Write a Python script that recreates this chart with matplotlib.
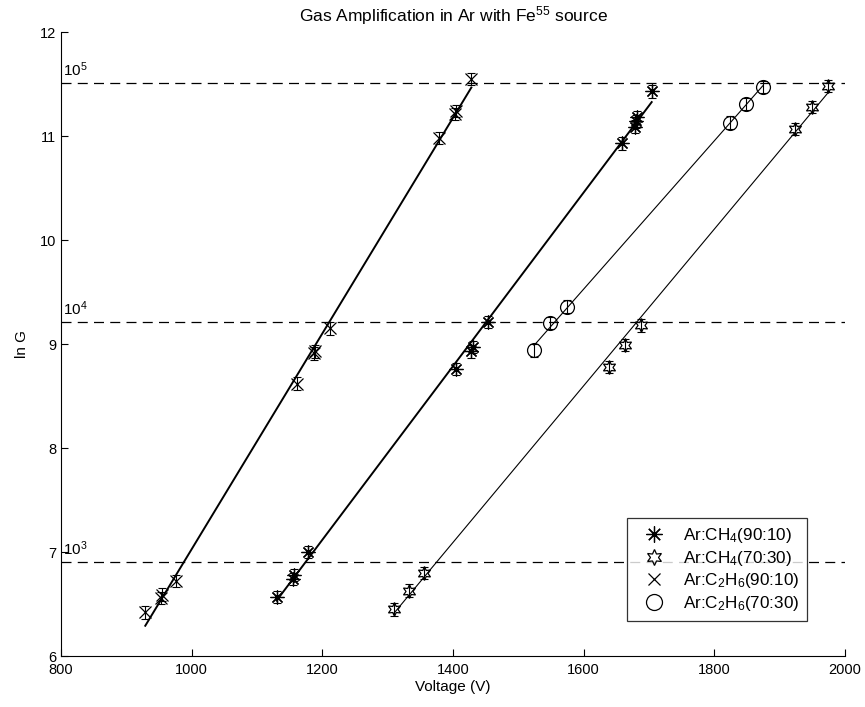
import numpy as np
import matplotlib.pyplot as plt

plt.rcParams['font.family'] = ['Liberation Sans', 'DejaVu Sans']
plt.rcParams['mathtext.default'] = 'regular'

# data: voltage (V) vs ln G
v_ch4_9010 = [1130, 1155, 1156, 1178, 1404, 1428, 1430, 1454, 1658, 1679, 1680, 1681, 1704]
g_ch4_9010 = [6.57, 6.74, 6.78, 7.00, 8.76, 8.93, 8.97, 9.21, 10.93, 11.09, 11.14, 11.18, 11.43]

v_ch4_7030 = [1309, 1333, 1355, 1638, 1663, 1688, 1924, 1949, 1974]
g_ch4_7030 = [6.45, 6.63, 6.80, 8.78, 8.99, 9.18, 11.07, 11.28, 11.48]

v_c2h6_9010 = [929, 953, 955, 976, 1161, 1187, 1188, 1212, 1378, 1403, 1404, 1428]
g_c2h6_9010 = [6.42, 6.56, 6.59, 6.72, 8.62, 8.91, 8.93, 9.15, 10.98, 11.21, 11.24, 11.55]

v_c2h6_7030 = [1524, 1549, 1574, 1824, 1849, 1874]
g_c2h6_7030 = [8.94, 9.20, 9.36, 11.13, 11.31, 11.47]

labels = ['Ar:CH$_4$(90:10)', 'Ar:CH$_4$(70:30)', 'Ar:C$_2$H$_6$(90:10)', 'Ar:C$_2$H$_6$(70:30)']
gain_levels = [1e3, 1e4, 1e5]
gain_labels = ['10$^3$', '10$^4$', '10$^5$']

fig = plt.figure(figsize=(8.65, 7.07), dpi=100)
ax = fig.add_axes([0.0705, 0.072, 0.9065, 0.8827])

series = [
    (v_ch4_9010, g_ch4_9010, (8, 2, 0), 1.4),
    (v_ch4_7030, g_ch4_7030, (6, 1, 0), 0.8),
    (v_c2h6_9010, g_c2h6_9010, 'x', 1.4),
    (v_c2h6_7030, g_c2h6_7030, 'o', 0.8),
]

handles = []
for (v, g, mk, lw), lab in zip(series, labels):
    v = np.array(v)
    g = np.array(g)
    # fit line
    p = np.polyfit(v, g, 1)
    xx = np.array([v.min(), v.max()])
    ax.plot(xx, np.polyval(p, xx), color='black', linewidth=lw)
    # points with small error bars
    ax.errorbar(v, g, yerr=0.06, fmt='none', ecolor='black', elinewidth=0.8, capsize=3, capthick=0.8)
    h, = ax.plot(v, g, linestyle='none', marker=mk, markersize=10 if mk != 'x' else 8,
                 markerfacecolor='none', markeredgecolor='black', markeredgewidth=0.9, label=lab)
    handles.append(h)

# reference gain levels
for lvl, txt in zip(gain_levels, gain_labels):
    ax.axhline(np.log(lvl), color='black', linestyle=(0, (8, 5)), linewidth=0.9)
    ax.text(803, np.log(lvl) + 0.04, txt, fontsize=11, ha='left', va='bottom')

ax.set_xlim(800, 2000)
ax.set_ylim(6, 12)
ax.set_xticks(np.arange(800, 2001, 200))
ax.set_yticks(np.arange(6, 13, 1))
ax.tick_params(direction='in', labelsize=10.5, length=5)
ax.tick_params(axis='x', pad=5)
ax.spines['top'].set_visible(False)
ax.spines['right'].set_visible(False)

ax.set_title('Gas Amplification in Ar with Fe$^{55}$ source', fontsize=12.5, pad=8)
ax.set_xlabel('Voltage (V)', fontsize=11, labelpad=2)
ax.set_ylabel('ln G', fontsize=11, labelpad=8)

leg = ax.legend(handles=handles, loc='lower right', bbox_to_anchor=(0.962, 0.043), fontsize=12.3,
                frameon=True, fancybox=False, edgecolor='black', borderpad=0.45,
                handletextpad=0.5, labelspacing=0.22, handlelength=2.3, markerscale=1.15)
leg.get_frame().set_linewidth(0.9)

plt.savefig('out.png', dpi=100)
